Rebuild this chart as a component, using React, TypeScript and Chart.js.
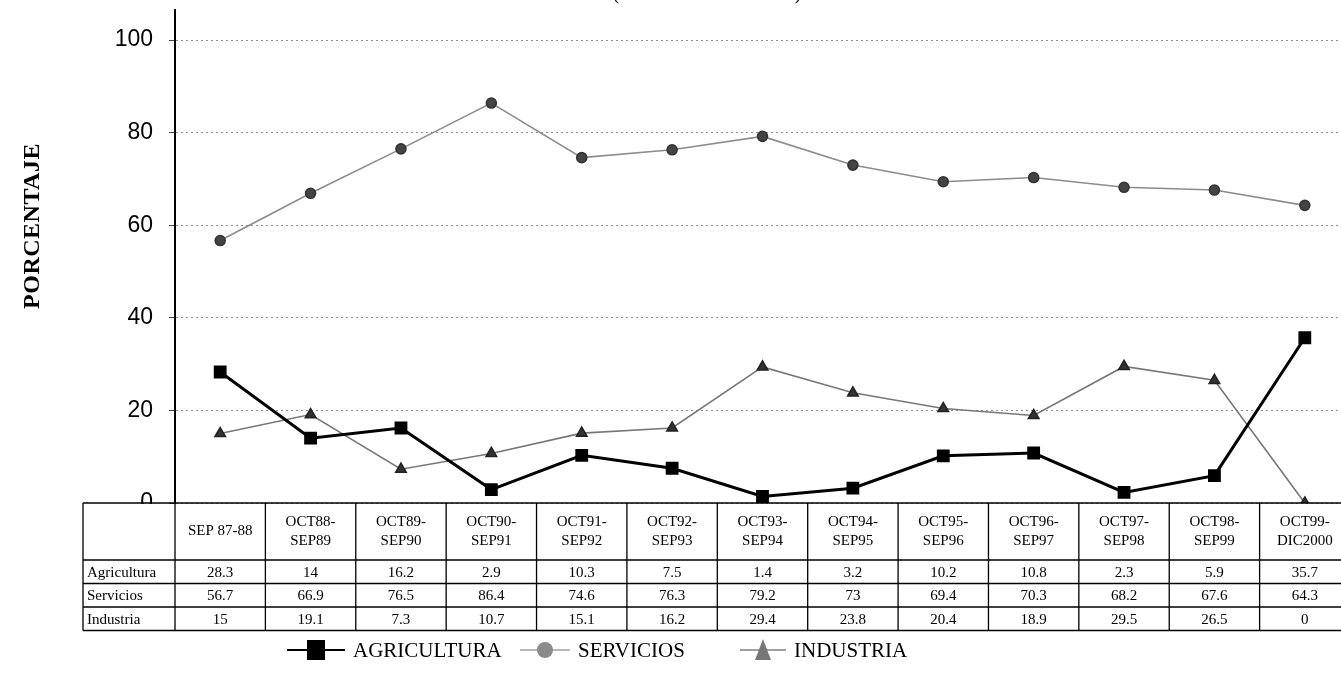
import React, { useEffect, useRef } from "react";
import { Chart, registerables } from "chart.js";

Chart.register(...registerables);

const categories: string[][] = [
  ["SEP 87-88"],
  ["OCT88-", "SEP89"],
  ["OCT89-", "SEP90"],
  ["OCT90-", "SEP91"],
  ["OCT91-", "SEP92"],
  ["OCT92-", "SEP93"],
  ["OCT93-", "SEP94"],
  ["OCT94-", "SEP95"],
  ["OCT95-", "SEP96"],
  ["OCT96-", "SEP97"],
  ["OCT97-", "SEP98"],
  ["OCT98-", "SEP99"],
  ["OCT99-", "DIC2000"],
];
const agricultura = [28.3, 14, 16.2, 2.9, 10.3, 7.5, 1.4, 3.2, 10.2, 10.8, 2.3, 5.9, 35.7];
const servicios = [56.7, 66.9, 76.5, 86.4, 74.6, 76.3, 79.2, 73, 69.4, 70.3, 68.2, 67.6, 64.3];
const industria = [15, 19.1, 7.3, 10.7, 15.1, 16.2, 29.4, 23.8, 20.4, 18.9, 29.5, 26.5, 0];
const rowLabels = ["Agricultura", "Servicios", "Industria"];
const legendLabels = ["AGRICULTURA", "SERVICIOS", "INDUSTRIA"];
const yAxisTitle = "PORCENTAJE";
const chartTitle = "(SEP 1987 - DIC 2000)";

const SERIF = "'Liberation Serif', 'Times New Roman', serif";
const SANS = "'Liberation Sans', Arial, sans-serif";

const tablePlugin = {
  id: "tablePlugin",
  afterDraw(chart: any) {
    const ctx = chart.ctx as CanvasRenderingContext2D;
    const xs = chart.scales.x;
    const area = chart.chartArea;
    const n = categories.length;
    const step = xs.getPixelForValue(1) - xs.getPixelForValue(0);
    const top = area.bottom;
    const headerH = 57;
    const rowH = 23.5;
    const tableLeft = 83;
    const tableRight = xs.getPixelForValue(n - 1) + step / 2;
    const bottom = top + headerH + rowH * 3;
    const rows = [agricultura, servicios, industria];

    ctx.save();
    // title (cut off at the top)
    ctx.fillStyle = "#000";
    ctx.font = `20px ${SERIF}`;
    ctx.textAlign = "center";
    ctx.textBaseline = "alphabetic";
    ctx.fillText(chartTitle, 707, -1);

    // y axis title
    ctx.save();
    ctx.translate(33, 226);
    ctx.rotate(-Math.PI / 2);
    ctx.font = `bold 24px ${SERIF}`;
    (ctx as any).letterSpacing = "0.5px";
    ctx.textAlign = "center";
    ctx.textBaseline = "middle";
    ctx.fillText(yAxisTitle, 0, 0);
    ctx.restore();

    // table background
    ctx.fillStyle = "#fff";
    ctx.fillRect(tableLeft, top + 1, tableRight - tableLeft + 20, bottom - top + 2);

    ctx.strokeStyle = "#000";
    ctx.lineWidth = 1.3;
    ctx.beginPath();
    const hy = [top, top + headerH, top + headerH + rowH, top + headerH + 2 * rowH, bottom];
    hy.forEach((y) => {
      ctx.moveTo(tableLeft, y);
      ctx.lineTo(tableRight + 20, y);
    });
    ctx.moveTo(tableLeft, top);
    ctx.lineTo(tableLeft, bottom);
    for (let i = 0; i < n; i++) {
      const xl = xs.getPixelForValue(i) - step / 2;
      ctx.moveTo(xl, top);
      ctx.lineTo(xl, bottom);
    }
    ctx.stroke();

    ctx.fillStyle = "#000";
    ctx.font = `15px ${SERIF}`;
    ctx.textAlign = "center";
    ctx.textBaseline = "middle";
    for (let i = 0; i < n; i++) {
      const cx = xs.getPixelForValue(i);
      const lines = categories[i];
      const cy = top + headerH / 2;
      if (lines.length === 1) {
        ctx.fillText(lines[0], cx, cy);
      } else {
        ctx.fillText(lines[0], cx, cy - 9.5);
        ctx.fillText(lines[1], cx, cy + 9.5);
      }
      rows.forEach((r, k) => {
        ctx.fillText(String(r[i]), cx, top + headerH + rowH * k + rowH / 2 + 1);
      });
    }
    ctx.textAlign = "left";
    rowLabels.forEach((l, k) => {
      ctx.fillText(l, tableLeft + 4, top + headerH + rowH * k + rowH / 2 + 1);
    });

    // legend
    const ly = 650;
    ctx.font = `21px ${SERIF}`;
    ctx.textBaseline = "middle";
    const starts = [287, 520, 740];
    const widths = [58, 50, 46];
    const styles = [
      { line: "#000", lw: 2, marker: "rect", fill: "#000" },
      { line: "#a0a0a0", lw: 1.5, marker: "circle", fill: "#8a8a8a" },
      { line: "#808080", lw: 1.5, marker: "triangle", fill: "#777" },
    ];
    legendLabels.forEach((lab, k) => {
      const s = styles[k];
      const x = starts[k];
      const sw = widths[k];
      ctx.strokeStyle = s.line;
      ctx.lineWidth = s.lw;
      ctx.beginPath();
      ctx.moveTo(x, ly);
      ctx.lineTo(x + sw, ly);
      ctx.stroke();
      const mx = x + sw / 2;
      ctx.fillStyle = s.fill;
      if (s.marker === "rect") {
        ctx.fillRect(mx - 9, ly - 10, 18, 20);
      } else if (s.marker === "circle") {
        ctx.beginPath();
        ctx.arc(mx, ly, 8, 0, Math.PI * 2);
        ctx.fill();
      } else {
        ctx.beginPath();
        ctx.moveTo(mx, ly - 11);
        ctx.lineTo(mx + 8, ly + 10);
        ctx.lineTo(mx - 8, ly + 10);
        ctx.closePath();
        ctx.fill();
      }
      ctx.fillStyle = "#000";
      ctx.textAlign = "left";
      ctx.fillText(lab, x + sw + 8, ly + 1);
    });
    ctx.restore();
  },
};

export default function App() {
  const ref = useRef<HTMLCanvasElement | null>(null);
  useEffect(() => {
    if (!ref.current) return;
    const chart = new Chart(ref.current, {
      type: "line",
      data: {
        labels: categories.map((c) => c.join(" ")),
        datasets: [
          {
            label: rowLabels[0],
            data: agricultura,
            borderColor: "#000",
            backgroundColor: "#000",
            borderWidth: 3,
            pointStyle: "rect",
            pointRadius: 8,
            pointBorderWidth: 1.5,
            pointBackgroundColor: "#000",
            pointBorderColor: "#000",
            tension: 0,
          },
          {
            label: rowLabels[1],
            data: servicios,
            borderColor: "#8c8c8c",
            backgroundColor: "#444",
            borderWidth: 1.6,
            pointStyle: "circle",
            pointRadius: 5,
            pointBackgroundColor: "#444",
            pointBorderColor: "#333",
            tension: 0,
          },
          {
            label: rowLabels[2],
            data: industria,
            borderColor: "#777",
            backgroundColor: "#333",
            borderWidth: 1.6,
            pointStyle: "triangle",
            pointRadius: 6,
            pointBackgroundColor: "#333",
            pointBorderColor: "#222",
            tension: 0,
          },
        ],
      },
      options: {
        animation: false,
        responsive: false,
        devicePixelRatio: 1,
        layout: { padding: { top: 10, bottom: 175, right: 15, left: 0 } },
        plugins: {
          legend: { display: false },
          tooltip: { enabled: false },
          title: { display: false },
        },
        scales: {
          x: { display: false, offset: true },
          y: {
            min: 0,
            max: 106.5,
            afterFit: (s: any) => {
              s.width = 175;
              s.paddingTop = 0;
              s.paddingBottom = 0;
            },
            ticks: {
              stepSize: 20,
              includeBounds: false,
              color: "#000",
              padding: 16,
              font: { family: SANS, size: 23 },
            },
            grid: {
              color: "#8f8f8f",
              lineWidth: 1,
              tickLength: 6,
              tickColor: "#444",
            },
            border: { display: true, color: "#000", width: 2, dash: [2, 3] },
          },
        },
      },
      plugins: [tablePlugin],
    } as any);
    return () => chart.destroy();
  }, []);

  return (
    <div
      style={{
        position: "fixed",
        left: 0,
        top: 0,
        width: 1341,
        height: 678,
        overflow: "hidden",
        background: "#fff",
      }}
    >
      <canvas ref={ref} width={1365} height={678} style={{ display: "block" }} />
    </div>
  );
}
